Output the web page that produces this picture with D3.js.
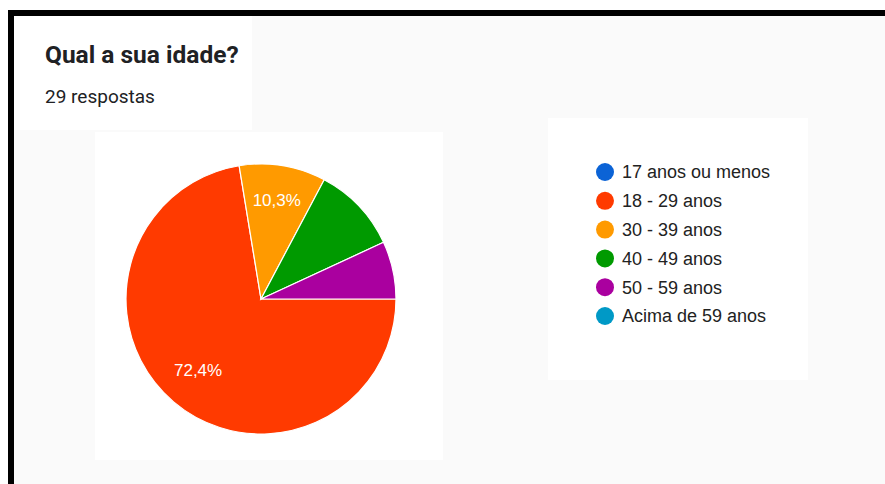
<!DOCTYPE html>
<html>
<head>
<meta charset="utf-8">
<script src="https://cdn.jsdelivr.net/npm/d3@7"></script>
<style>
  html, body { margin: 0; padding: 0; background: #ffffff; }
  svg { display: block; }
</style>
</head>
<body>
<svg id="chart" width="885" height="484"></svg>
<script>
// Survey question and answers
const question = "Qual a sua idade?";
const responsesLabel = "29 respostas";
const categories = ["17 anos ou menos", "18 - 29 anos", "30 - 39 anos", "40 - 49 anos", "50 - 59 anos", "Acima de 59 anos"];
const counts = [0, 21, 3, 3, 2, 0];
const colors = ["#0b63d6", "#ff3a00", "#ff9a00", "#009a00", "#aa009f", "#0099c6"];
// Slices that carry a percentage label inside
const labelled = [false, true, true, false, false, false];

const svg = d3.select("#chart");

// Card background and frame
svg.append("rect").attr("x", 14).attr("y", 16).attr("width", 871).attr("height", 468).attr("fill", "#fafafa");
svg.append("rect").attr("x", 14).attr("y", 16).attr("width", 238).attr("height", 114).attr("fill", "#ffffff");
svg.append("rect").attr("x", 95).attr("y", 132).attr("width", 348).attr("height", 328).attr("fill", "#ffffff");
svg.append("rect").attr("x", 548).attr("y", 118).attr("width", 260).attr("height", 262).attr("fill", "#ffffff");
svg.append("rect").attr("x", 8).attr("y", 10).attr("width", 877).attr("height", 6).attr("fill", "#000000");
svg.append("rect").attr("x", 8).attr("y", 10).attr("width", 6).attr("height", 474).attr("fill", "#000000");

// Header
svg.append("text").attr("x", 45).attr("y", 63)
  .attr("font-family", "Roboto, sans-serif").attr("font-weight", 700).attr("font-size", 24.5)
  .attr("fill", "#202124").text(question);
svg.append("text").attr("x", 45).attr("y", 103)
  .attr("font-family", "Roboto, sans-serif").attr("font-size", 19)
  .attr("fill", "#202124").text(responsesLabel);

// Pie
const total = d3.sum(counts);
const data = categories.map((c, i) => ({ name: c, value: counts[i], color: colors[i], label: labelled[i] }));
const cx = 261, cy = 299, r = 135;

const pie = d3.pie().value(d => d.value).sort(null)
  .startAngle(Math.PI / 2).endAngle(Math.PI / 2 + 2 * Math.PI);
const arcs = pie(data).filter(a => a.data.value > 0);
const arc = d3.arc().innerRadius(0).outerRadius(r);
const labelArc = d3.arc().innerRadius(r * 0.72).outerRadius(r * 0.72);

const g = svg.append("g").attr("transform", `translate(${cx},${cy})`);
g.selectAll("path.slice").data(arcs).join("path")
  .attr("class", "slice")
  .attr("d", arc)
  .attr("fill", d => d.data.color)
  .attr("stroke", "#ffffff").attr("stroke-width", 1.2);

const fmt = v => (v * 100).toFixed(1).replace(".", ",") + "%";
g.selectAll("text.pct").data(arcs.filter(a => a.data.label)).join("text")
  .attr("class", "pct")
  .attr("transform", d => `translate(${labelArc.centroid(d)})`)
  .attr("text-anchor", "middle").attr("dy", "0.2em")
  .attr("font-family", "Arial, 'Liberation Sans', sans-serif").attr("font-size", 17)
  .attr("fill", "#ffffff")
  .text(d => fmt(d.data.value / total));

// Legend
const legendY = d3.scalePoint().domain(categories).range([172, 316]);
const legend = svg.append("g");
const items = legend.selectAll("g").data(data).join("g")
  .attr("transform", d => `translate(605,${legendY(d.name)})`);
items.append("circle").attr("r", 9).attr("fill", d => d.color);
items.append("text").attr("x", 17).attr("dy", "0.35em")
  .attr("font-family", "Arial, 'Liberation Sans', sans-serif").attr("font-size", 18)
  .attr("fill", "#222222")
  .text(d => d.name);
</script>
</body>
</html>
